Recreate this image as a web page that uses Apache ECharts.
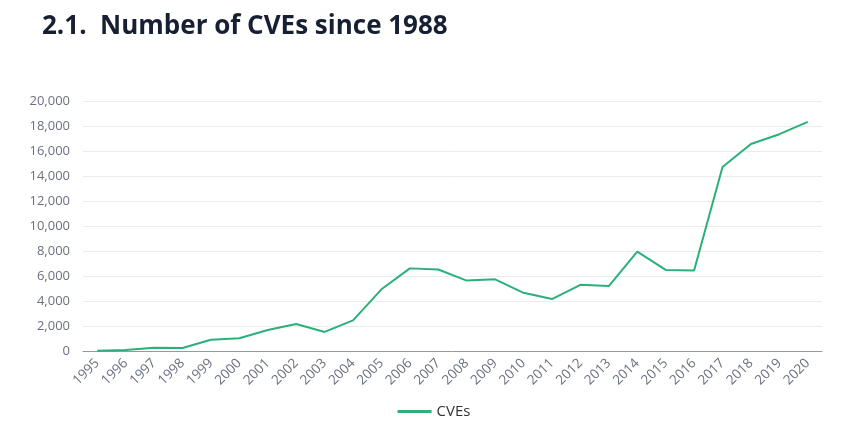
<!DOCTYPE html>
<html><head><meta charset="utf-8">
<script src="https://cdn.jsdelivr.net/npm/echarts@6/dist/echarts.min.js"></script>
<style>html,body{margin:0;padding:0;background:#fff}#c{width:868px;height:438px}</style>
</head><body><div id="c"></div>
<script>
const years = ['1995','1996','1997','1998','1999','2000','2001','2002','2003','2004','2005','2006','2007','2008','2009','2010','2011','2012','2013','2014','2015','2016','2017','2018','2019','2020'];
const cves = [25,75,252,246,894,1020,1677,2156,1527,2451,4935,6610,6520,5632,5736,4652,4155,5297,5191,7946,6484,6447,14714,16557,17344,18325];
const yTicks = {min:0, max:20000, interval:2000};
const chart = echarts.init(document.getElementById('c'), null, {renderer:'canvas'});
chart.setOption({
  animation:false,
  title:{text:'2.1.  Number of CVEs since 1988', left:37, top:9,
    textStyle:{fontFamily:'Open Sans', fontWeight:'bold', fontSize:26, color:'#172033'}},
  grid:{left:83, right:46, top:101, bottom:87},
  legend:{data:['CVEs'], bottom:14, left:'center', itemWidth:34, itemHeight:3, itemGap:4,
    icon:'rect', textStyle:{fontFamily:'Open Sans', fontSize:15, color:'#333'}},
  xAxis:{type:'category', data:years, boundaryGap:true,
    axisLine:{lineStyle:{color:'#999', width:1}}, axisTick:{show:false},
    axisLabel:{rotate:45, interval:0, fontFamily:'Open Sans', fontSize:13.5, color:'#6b7080', margin:10}},
  yAxis:{type:'value', min:yTicks.min, max:yTicks.max, interval:yTicks.interval,
    axisLine:{show:false}, axisTick:{show:false},
    splitLine:{lineStyle:{color:'#ebebeb'}},
    axisLabel:{fontFamily:'Open Sans', fontSize:13, color:'#6b7080', margin:13,
      formatter:v=>v.toLocaleString('en-US')}},
  series:[{name:'CVEs', type:'line', data:cves, showSymbol:false, symbol:'none',
    lineStyle:{color:'#2bb07a', width:2}, itemStyle:{color:'#2bb07a'}}]
});
</script></body></html>
